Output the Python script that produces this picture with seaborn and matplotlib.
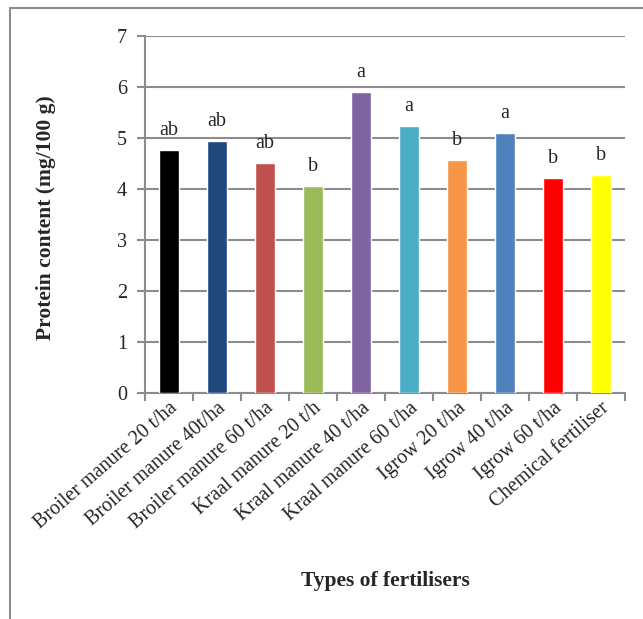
import pandas as pd
import seaborn as sns
import matplotlib.pyplot as plt
from matplotlib.lines import Line2D

# data
categories = ["Broiler manure 20 t/ha", "Broiler manure 40t/ha", "Broiler manure 60 t/ha",
              "Kraal manure 20 t/h", "Kraal manure 40 t/ha", "Kraal manure 60 t/ha",
              "Igrow 20 t/ha", "Igrow 40 t/ha", "Igrow 60 t/ha", "Chemical fertiliser"]
protein = [4.77, 4.94, 4.51, 4.06, 5.91, 5.24, 4.57, 5.10, 4.22, 4.27]
letters = ["ab", "ab", "ab", "b", "a", "a", "b", "a", "b", "b"]
colors = ["#000000", "#1F497D", "#C0504D", "#9BBB59", "#8064A2",
          "#4BACC6", "#F79646", "#4F81BD", "#FF0000", "#FFFF00"]

df = pd.DataFrame({"fertiliser": categories, "protein": protein})

sns.set_style("white")
plt.rcParams["font.family"] = ["Liberation Serif", "DejaVu Serif"]

fig = plt.figure(figsize=(6.43, 6.19), dpi=100)
ax = fig.add_axes([145 / 643, 1 - 393 / 619, 480 / 643, 357 / 619])

sns.barplot(data=df, x="fertiliser", y="protein", hue="fertiliser",
            palette=colors, saturation=1, width=0.42, legend=False, ax=ax, zorder=3)

# significance letters above bars
for i, (v, lab) in enumerate(zip(protein, letters)):
    ax.annotate(lab, (i, v), xytext=(0, 14), textcoords="offset points",
                ha="center", va="center", fontsize=14.5)

grid_c = "#8c8c8c"
ax.set_ylim(0, 7)
ax.set_xlim(-0.5, len(categories) - 0.5)
ax.set_yticks(range(0, 8))
ax.yaxis.grid(True, color=grid_c, linewidth=1.5, zorder=0)
ax.set_axisbelow(True)
for s in ["top", "right"]:
    ax.spines[s].set_visible(False)
for s in ["left", "bottom"]:
    ax.spines[s].set_color(grid_c)
    ax.spines[s].set_linewidth(1.5)

ax.tick_params(axis="y", length=6, width=1.5, color=grid_c, labelsize=14.5, pad=7, left=True)
ax.set_xticks(range(len(categories)))
ax.set_xticklabels(categories, rotation=41, ha="right", rotation_mode="anchor", fontsize=14.5)
ax.tick_params(axis="x", length=0, pad=4)
ax.set_xticks([i - 0.5 for i in range(len(categories) + 1)], minor=True)
ax.tick_params(axis="x", which="minor", length=6, width=1.5, color=grid_c, bottom=True)

ax.set_xlabel("")
ax.set_ylabel("Protein content (mg/100 g)", fontsize=15.5, fontweight="bold")
ax.yaxis.set_label_coords((56 - 145) / 480, (393 - 218) / 357)
fig.text(385 / 643, 1 - 581 / 619, "Types of fertilisers", ha="center", va="center",
         fontsize=15.5, fontweight="bold")

# outer frame
fig.add_artist(Line2D([10 / 643, 10 / 643], [0, 1 - 8 / 619], transform=fig.transFigure,
                      color=grid_c, linewidth=1.5))
fig.add_artist(Line2D([10 / 643, 1], [1 - 8 / 619, 1 - 8 / 619], transform=fig.transFigure,
                      color=grid_c, linewidth=1.5))

plt.savefig("out.png", dpi=100)
